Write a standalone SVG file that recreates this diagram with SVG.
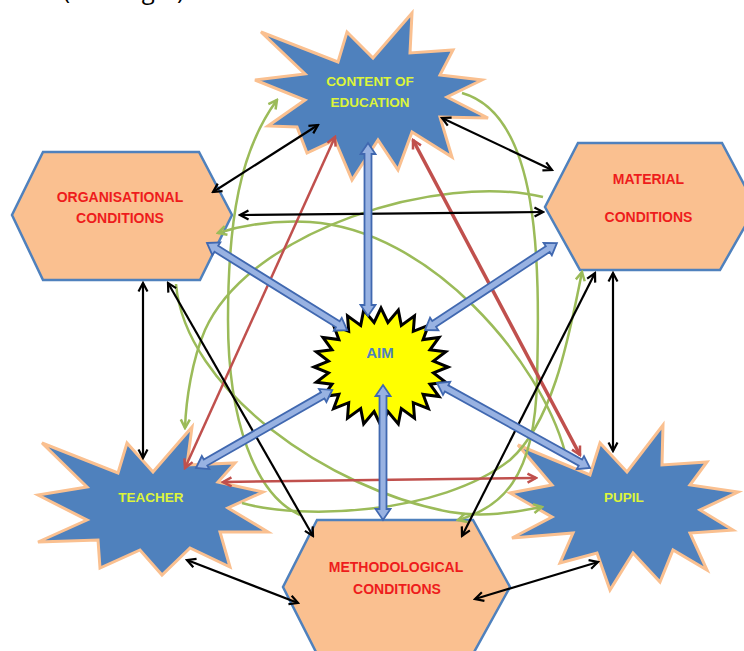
<svg xmlns="http://www.w3.org/2000/svg" width="744" height="651" viewBox="0 0 744 651">
<style>
.star{fill:#4F81BD;stroke:#FAC090;stroke-width:3;stroke-linejoin:miter}
.hex{fill:#FAC090;stroke:#4F81BD;stroke-width:2.5}
.aim{fill:#FFFF00;stroke:#000;stroke-width:3;stroke-linejoin:miter}
.ts{font-family:"Liberation Sans",Arial,sans-serif;font-weight:bold;font-size:13.5px;fill:#DDF53A;text-anchor:middle}
.th{font-family:"Liberation Sans",Arial,sans-serif;font-weight:bold;font-size:14px;fill:#EE1C1C;text-anchor:middle}
.ta{font-family:"Liberation Sans",Arial,sans-serif;font-weight:bold;font-size:15px;fill:#4F81BD;text-anchor:middle}
.bk{fill:none;stroke:#000;stroke-width:2.2;marker-start:url(#hk);marker-end:url(#hk)}
.rd{fill:none;stroke:#C0504D;stroke-width:2.5;marker-start:url(#hr);marker-end:url(#hr)}
.gr{fill:none;stroke:#9BBB59;stroke-width:2.5;marker-end:url(#hg)}
.blk{fill:#98B2E2;stroke:#4068B0;stroke-width:1.8;stroke-linejoin:miter}
</style>
<defs>
<marker id="hk" viewBox="0 0 12 12" refX="10" refY="6" markerWidth="12" markerHeight="12" markerUnits="userSpaceOnUse" orient="auto-start-reverse"><path d="M1.5,1.5 L10,6 L1.5,10.5" fill="none" stroke="#000" stroke-width="2.2"/></marker>
<marker id="hr" viewBox="0 0 12 12" refX="10" refY="6" markerWidth="12" markerHeight="12" markerUnits="userSpaceOnUse" orient="auto-start-reverse"><path d="M1.5,1.5 L10,6 L1.5,10.5" fill="none" stroke="#C0504D" stroke-width="2.5"/></marker>
<marker id="hg" viewBox="0 0 12 12" refX="10" refY="6" markerWidth="12" markerHeight="12" markerUnits="userSpaceOnUse" orient="auto-start-reverse"><path d="M1.5,1.5 L10,6 L1.5,10.5" fill="none" stroke="#9BBB59" stroke-width="2.5"/></marker>
</defs>
<rect width="744" height="651" fill="#fff"/>
<text x="63" y="-1" font-family="'Open Sans',sans-serif" font-size="24" fill="#000">(Paradigm)</text>

<g id="node-content">
<polygon class="star" points="261,32 338,62 347,32 373,58 412,13 410,53 453,50 440,75 482,80 447,97 488,118 440,117 452,157 412,132 398,170 378,140 352,180 335,140 307,153 297,127 268,126 305,100 255,80 305,74"/>
<text class="ts" x="370" y="86">CONTENT OF</text>
<text class="ts" x="370" y="107">EDUCATION</text>
</g>
<g id="node-organisational">
<polygon class="hex" points="43,152 199,152 232,215 200,280 43,280 12,215"/>
<text class="th" x="120" y="201.5">ORGANISATIONAL</text>
<text class="th" x="120" y="223">CONDITIONS</text>
</g>
<g id="node-material">
<polygon class="hex" points="578,143 722,143 756,207 720,270 580,270 545,207"/>
<text class="th" x="648.5" y="184">MATERIAL</text>
<text class="th" x="648.5" y="221.5">CONDITIONS</text>
</g>
<g id="node-teacher">
<polygon class="star" points="42,443 118,473 127,443 153,472 192,427 187,465 235,463 218,482 263,492 228,508 268,532 220,532 230,567 190,548 162,575 140,550 100,568 98,540 38,542 87,520 38,495 87,487"/>
<text class="ts" x="151" y="502">TEACHER</text>
</g>
<g id="node-pupil">
<polygon class="star" points="518,445 590,475 600,443 627,472 663,425 662,465 707,462 690,485 738,492 700,510 733,530 690,533 707,570 673,550 660,582 633,553 610,590 597,553 560,563 573,533 512,538 552,517 510,493 552,485"/>
<text class="ts" x="624" y="502">PUPIL</text>
</g>
<g id="node-methodological">
<polygon class="hex" points="317,520 473,520 510,587 473,654 317,654 283,587"/>
<text class="th" x="396" y="571.5">METHODOLOGICAL</text>
<text class="th" x="397" y="594">CONDITIONS</text>
</g>
<g id="node-aim">
<polygon class="aim" points="448,367 433.5,372.9 445.7,382.3 430,384.2 439,396.5 423.1,394.4 428.4,408.7 413.3,402.7 414.5,418.1 401.3,408.6 398.3,424 387.9,411.6 381,426 374.1,411.6 363.7,424 360.7,408.6 347.5,418.1 348.7,402.7 333.6,408.7 338.9,394.4 323,396.5 332,384.2 316.3,382.3 328.5,372.9 314,367 328.5,361.1 316.3,351.7 332,349.8 323,337.5 338.9,339.6 333.6,325.3 348.7,331.3 347.5,315.9 360.7,325.4 363.7,310 374.1,322.4 381,308 387.9,322.4 398.3,310 401.3,325.4 414.5,315.9 413.3,331.3 428.4,325.3 423.1,339.6 439,337.5 430,349.8 445.7,351.7 433.5,361.1"/>
<text class="ta" x="380" y="358">AIM</text>
</g>

<g id="connectors">
<path class="gr" d="M543,197 C440,172 250,230 205,330 C192,360 186,400 185,428"/>
<path class="gr" d="M565,452 C540,360 430,230 310,222 C270,220 240,226 218,233"/>
<path class="gr" d="M176,284 C185,390 330,490 450,512 C485,518 515,512 542,507"/>
<path class="gr" d="M462,93 C540,115 540,260 537,380 C535,480 500,508 458,520"/>
<path class="gr" d="M242,503 C300,520 440,515 510,460 C555,420 570,330 582,272"/>
<path class="gr" d="M300,515 C255,495 228,420 228,320 C228,220 240,150 277,100"/>
<line class="rd" x1="185" y1="468" x2="335" y2="137"/>
<line class="rd" x1="580" y1="455" x2="413" y2="140" style="stroke-width:3.5"/>
<line class="rd" x1="223" y1="482" x2="536" y2="478"/>
<line class="bk" x1="318" y1="125" x2="213" y2="192"/>
<line class="bk" x1="442" y1="118" x2="552" y2="170"/>
<line class="bk" x1="240" y1="215" x2="543" y2="212"/>
<line class="bk" x1="143" y1="283" x2="143" y2="458"/>
<line class="bk" x1="613" y1="273" x2="613" y2="451"/>
<line class="bk" x1="187" y1="560" x2="298" y2="603"/>
<line class="bk" x1="475" y1="599" x2="598" y2="562"/>
<line class="bk" x1="168" y1="283" x2="313" y2="536"/>
<line class="bk" x1="595" y1="273" x2="462" y2="536"/>
<polygon class="blk" transform="translate(368,143) rotate(90)" points="0,0 11,-7.5 11,-3.5 162,-3.5 162,-7.5 173,0 162,7.5 162,3.5 11,3.5 11,7.5"/>
<polygon class="blk" transform="translate(383,385) rotate(90)" points="0,0 11,-7.5 11,-3.5 124,-3.5 124,-7.5 135,0 124,7.5 124,3.5 11,3.5 11,7.5"/>
<polygon class="blk" transform="translate(207,243) rotate(31.86)" points="0,0 11,-7.5 11,-3.5 154,-3.5 154,-7.5 165,0 154,7.5 154,3.5 11,3.5 11,7.5"/>
<polygon class="blk" transform="translate(425,330) rotate(-33.4)" points="0,0 11,-7.5 11,-3.5 147,-3.5 147,-7.5 158,0 147,7.5 147,3.5 11,3.5 11,7.5"/>
<polygon class="blk" transform="translate(196,468) rotate(-29.8)" points="0,0 11,-7.5 11,-3.5 146,-3.5 146,-7.5 157,0 146,7.5 146,3.5 11,3.5 11,7.5"/>
<polygon class="blk" transform="translate(437,383) rotate(29.05)" points="0,0 11,-7.5 11,-3.5 164,-3.5 164,-7.5 175,0 164,7.5 164,3.5 11,3.5 11,7.5"/>
</g>
</svg>
